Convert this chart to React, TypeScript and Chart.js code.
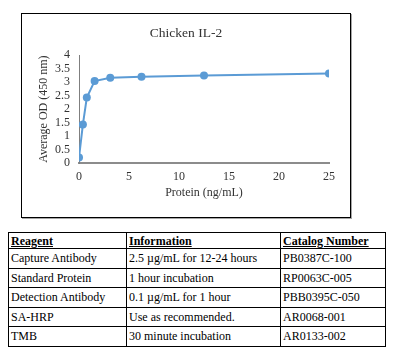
import React, { useEffect, useRef } from "react";
import { Chart, registerables } from "chart.js";

Chart.register(...registerables);

const chartTitle = "Chicken IL-2";
const xAxisTitle = "Protein (ng/mL)";
const yAxisTitle = "Average OD (450 nm)";
const proteinNgPerMl = [0, 0.39, 0.78, 1.56, 3.125, 6.25, 12.5, 25];
const averageOD = [0.2, 1.43, 2.43, 3.04, 3.16, 3.2, 3.25, 3.32];

const tableHeaders = ["Reagent", "Information", "Catalog Number"];
const reagents = ["Capture Antibody", "Standard Protein", "Detection Antibody", "SA-HRP", "TMB"];
const information = [
  "2.5 µg/mL for 12-24 hours",
  "1 hour incubation",
  "0.1 µg/mL for 1 hour",
  "Use as recommended.",
  "30 minute incubation",
];
const catalogNumbers = ["PB0387C-100", "RP0063C-005", "PBB0395C-050", "AR0068-001", "AR0133-002"];

const FONT = "'Liberation Serif', serif";
const TEXT = "#333333";
const BLUE = "#5b9bd5";

function ChartBox() {
  const ref = useRef<HTMLCanvasElement | null>(null);
  useEffect(() => {
    if (!ref.current) return;
    const chart = new Chart(ref.current, {
      type: "scatter",
      data: {
        datasets: [
          {
            data: proteinNgPerMl.map((x, i) => ({ x, y: averageOD[i] })),
            showLine: true,
            borderColor: BLUE,
            backgroundColor: BLUE,
            borderWidth: 2,
            pointRadius: 4,
            pointBorderWidth: 0,
            pointBackgroundColor: BLUE,
          },
        ],
      },
      options: {
        animation: false,
        responsive: false,
        maintainAspectRatio: false,
        layout: { padding: { left: 0, right: 0, top: 0, bottom: 0 } },
        plugins: {
          legend: { display: false },
          tooltip: { enabled: false },
          title: {
            display: true,
            text: chartTitle,
            color: TEXT,
            font: { family: FONT, size: 13.5, weight: "normal" },
            padding: { top: 11, bottom: 14 },
          },
        },
        scales: {
          x: {
            type: "linear",
            min: 0,
            max: 25,
            ticks: { stepSize: 5, padding: 7, color: TEXT, font: { family: FONT, size: 12 } },
            grid: { display: false, drawTicks: false },
            border: { display: true, color: "#8c8c8c", width: 2 },
            title: {
              display: true,
              text: xAxisTitle,
              color: TEXT,
              font: { family: FONT, size: 12 },
              padding: { top: 0, bottom: 17 },
            },
            afterFit: (s: any) => {
              s.height = 54;
            },
          },
          y: {
            min: 0,
            max: 4,
            ticks: {
              stepSize: 0.5,
              autoSkip: false,
              padding: 9,
              color: TEXT,
              font: { family: FONT, size: 12 },
              callback: (v: any) => String(v),
            },
            grid: { display: false, drawTicks: false },
            border: { display: true, color: "#7f7f7f", width: 1 },
            title: {
              display: true,
              text: yAxisTitle,
              color: TEXT,
              font: { family: FONT, size: 12 },
              padding: { top: 15, bottom: 0 },
            },
            afterFit: (s: any) => {
              s.width = 57;
            },
          },
          yRightSpace: {
            type: "linear",
            position: "right",
            display: true,
            ticks: { display: false },
            grid: { display: false, drawTicks: false },
            border: { display: false },
            afterFit: (s: any) => {
              s.width = 21;
            },
          },
        },
      },
    } as any);
    return () => chart.destroy();
  }, []);
  return (
    <div
      style={{
        position: "absolute",
        left: 13,
        top: 5,
        width: 328,
        height: 203,
        border: "1px solid #000",
        boxShadow: "1px 1px 0 #a6a6a6",
        background: "#fff",
      }}
    >
      <canvas ref={ref} width={328} height={203} style={{ display: "block", width: 328, height: 203 }} />
    </div>
  );
}

export default function App() {
  const cell: React.CSSProperties = {
    border: "1px solid #000",
    padding: "0 2px",
    fontFamily: FONT,
    fontSize: 12,
    color: "#000",
    textAlign: "left",
    verticalAlign: "middle",
    lineHeight: "14px",
    whiteSpace: "nowrap",
  };
  const colWidths = [118, 154, 105];
  return (
    <div style={{ position: "relative", width: 382, height: 340 }}>
      <ChartBox />
      <table
        style={{
          position: "absolute",
          left: 0,
          top: 224,
          width: 377,
          borderCollapse: "collapse",
          tableLayout: "fixed",
        }}
      >
        <colgroup>
          {colWidths.map((w, i) => (
            <col key={i} style={{ width: w }} />
          ))}
        </colgroup>
        <thead>
          <tr style={{ height: 16 }}>
            {tableHeaders.map((h) => (
              <th key={h} style={{ ...cell, fontWeight: "bold", textDecoration: "underline" }}>
                {h}
              </th>
            ))}
          </tr>
        </thead>
        <tbody>
          {reagents.map((r, i) => (
            <tr key={r} style={{ height: 19.5 }}>
              <td style={cell}>{r}</td>
              <td style={cell}>{information[i]}</td>
              <td style={cell}>{catalogNumbers[i]}</td>
            </tr>
          ))}
        </tbody>
      </table>
    </div>
  );
}
